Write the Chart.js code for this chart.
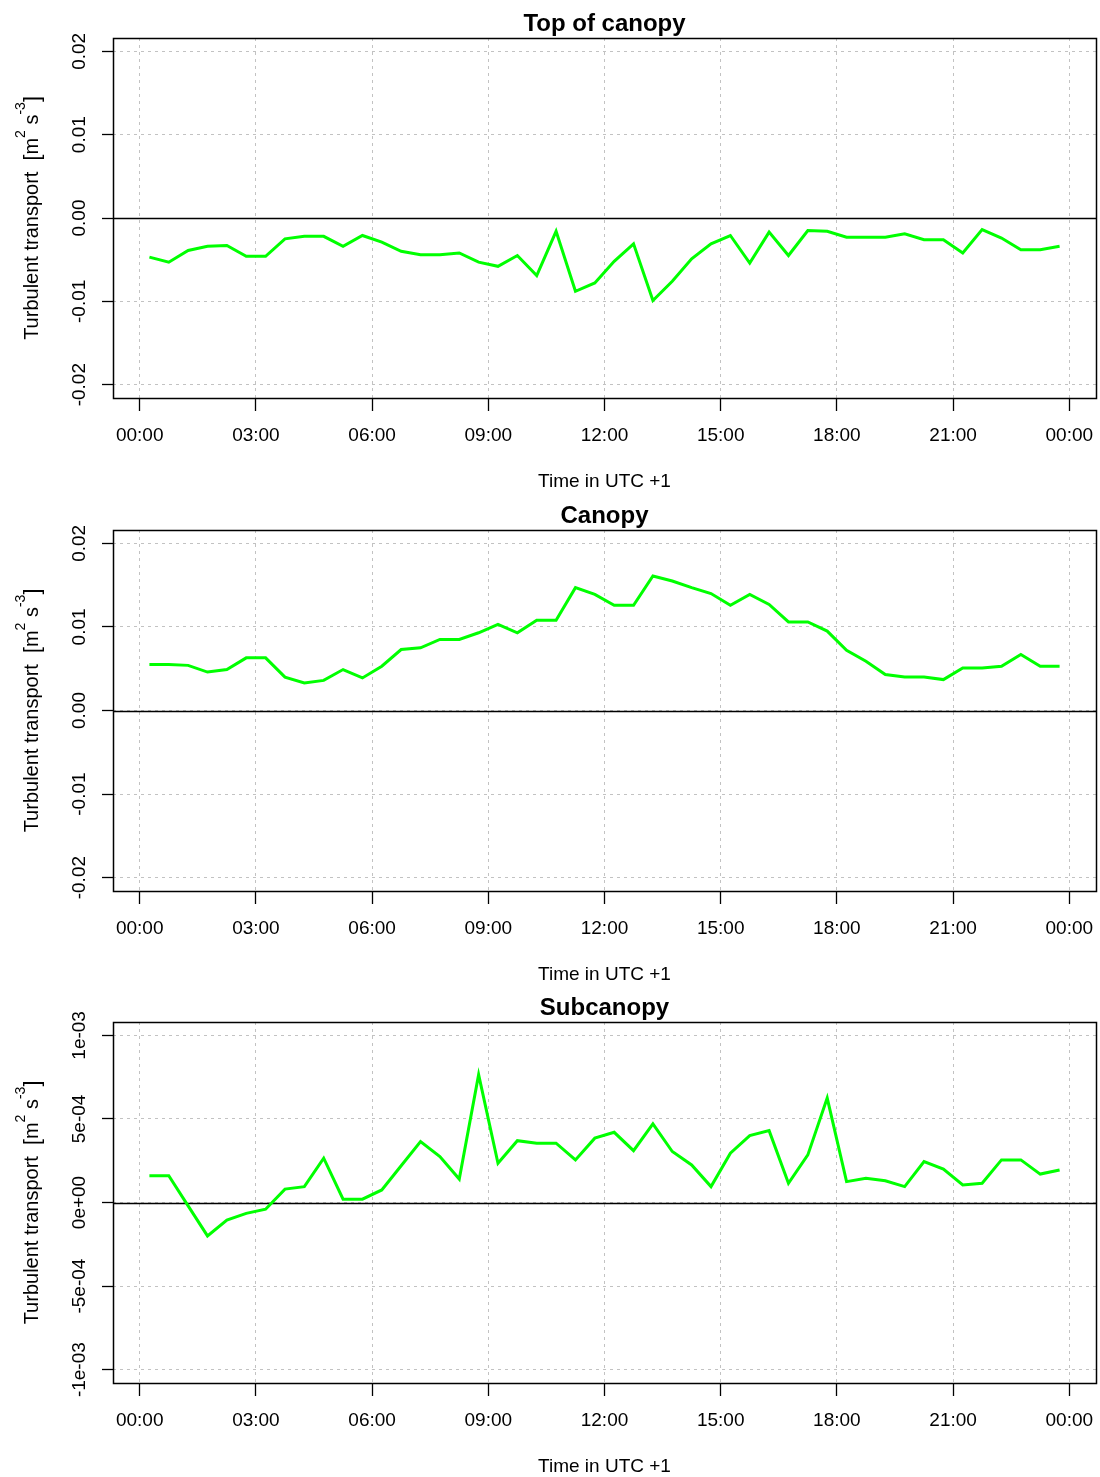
<!DOCTYPE html>
<html>
<head>
<meta charset="utf-8">
<title>Turbulent transport</title>
<script src="https://cdn.jsdelivr.net/npm/chart.js@4/dist/chart.umd.min.js"></script>
<style>
  html, body { margin: 0; padding: 0; background: #fff; }
  #wrap { position: relative; width: 1100px; height: 1477px; }
  #wrap canvas { position: absolute; left: 0; }
</style>
</head>
<body>
<div id="wrap">
  <canvas id="c1" width="1100" height="492" style="top:0px"></canvas>
  <canvas id="c2" width="1100" height="493" style="top:492px"></canvas>
  <canvas id="c3" width="1100" height="493" style="top:984px"></canvas>
</div>
<script>
// Half-hourly averaging periods (centre times, UTC +1)
const times = [
  '00:15','00:45','01:15','01:45','02:15','02:45','03:15','03:45',
  '04:15','04:45','05:15','05:45','06:15','06:45','07:15','07:45',
  '08:15','08:45','09:15','09:45','10:15','10:45','11:15','11:45',
  '12:15','12:45','13:15','13:45','14:15','14:45','15:15','15:45',
  '16:15','16:45','17:15','17:45','18:15','18:45','19:15','19:45',
  '20:15','20:45','21:15','21:45','22:15','22:45','23:15','23:45'
];

// Turbulent transport of TKE [m2 s-3] at three levels
const topOfCanopy = [
  -0.0047,-0.0053,-0.0039,-0.0034,-0.0033,-0.0046,-0.0046,-0.0025,
  -0.0022,-0.0022,-0.0034,-0.0021,-0.0029,-0.0040,-0.0044,-0.0044,
  -0.0042,-0.0053,-0.0058,-0.0045,-0.0069,-0.0016,-0.0088,-0.0078,
  -0.0052,-0.0031,-0.0099,-0.0076,-0.0049,-0.0031,-0.0021,-0.0054,
  -0.0017,-0.0045,-0.0015,-0.0016,-0.0023,-0.0023,-0.0023,-0.0019,
  -0.0026,-0.0026,-0.0042,-0.0014,-0.0024,-0.0038,-0.0038,-0.0034
];
const canopy = [
  0.0055,0.0055,0.0054,0.0046,0.0049,0.0063,0.0063,0.0040,
  0.0033,0.0036,0.0049,0.0039,0.0053,0.0073,0.0075,0.0085,
  0.0085,0.0093,0.0103,0.0093,0.0108,0.0108,0.0147,0.0139,
  0.0126,0.0126,0.0161,0.0155,0.0147,0.0140,0.0126,0.0139,
  0.0127,0.0106,0.0106,0.0095,0.0072,0.0059,0.0043,0.0040,
  0.0040,0.0037,0.0051,0.0051,0.0053,0.0067,0.0053,0.0053
];
const subcanopy = [
  1.6e-4, 1.6e-4,-0.2e-4,-2.0e-4,-1.05e-4,-0.65e-4,-0.4e-4, 0.8e-4,
  0.95e-4,2.65e-4,0.2e-4, 0.2e-4, 0.75e-4, 2.2e-4, 3.65e-4, 2.75e-4,
  1.4e-4, 7.65e-4,2.35e-4,3.7e-4, 3.55e-4, 3.55e-4, 2.55e-4, 3.85e-4,
  4.2e-4, 3.1e-4, 4.7e-4, 3.05e-4,2.25e-4, 0.95e-4, 2.95e-4, 4.0e-4,
  4.3e-4, 1.15e-4,2.85e-4,6.25e-4,1.25e-4, 1.45e-4, 1.3e-4, 0.95e-4,
  2.45e-4,2.0e-4, 1.05e-4,1.15e-4,2.55e-4, 2.55e-4, 1.7e-4, 1.95e-4
];

// Axis ticks and their labels
const xTickHours  = [0, 3, 6, 9, 12, 15, 18, 21, 24];
const xTickLabels = ['00:00','03:00','06:00','09:00','12:00','15:00','18:00','21:00','00:00'];
const fluxTicks      = [-0.02, -0.01, 0, 0.01, 0.02];
const fluxTickLabels = ['-0.02','-0.01','0.00','0.01','0.02'];
const subTicks      = [-1e-3, -5e-4, 0, 5e-4, 1e-3];
const subTickLabels = ['-1e-03','-5e-04','0e+00','5e-04','1e-03'];

const panelTitles = ['Top of canopy', 'Canopy', 'Subcanopy'];
const xAxisTitle = 'Time in UTC +1';

// ---------------------------------------------------------------------------
const FONT = '"Liberation Sans", Arial, Helvetica, sans-serif';
const TICK_SIZE = 19;
const PLOT_LEFT = 113, PLOT_TOP = 38, PLOT_RIGHT_GAP = 4, X_AXIS_H = 94;
const Y_TICK_LEN = 11, X_TICK_LEN = 13, Y_LABEL_CX = 80;

const toHours = t => { const [h, m] = t.split(':').map(Number); return h + m / 60; };
// 4 % range extension on both sides, like base R plotting
const padRange = (lo, hi) => { const d = (hi - lo) * 0.04; return [lo - d, hi + d]; };

const xHours = times.map(toHours);
const [xMin, xMax] = padRange(xHours[0], xHours[xHours.length - 1]);

const measureCtx = document.createElement('canvas').getContext('2d');
measureCtx.font = `${TICK_SIZE}px ${FONT}`;

function drawYTitle(ctx, baselineX, centerY) {
  const big = `20px ${FONT}`, small = `14px ${FONT}`, bracket = `21.5px ${FONT}`;
  const parts = [
    { t: 'Turbulent transport  ', f: big, dy: 0 },
    { t: '[', f: bracket, dy: 0.5 },
    { t: 'm', f: big, dy: 0 },
    { t: '2', f: small, dy: -13 },
    { t: ' s', f: big, dy: 0 },
    { t: '-3', f: small, dy: -13 },
    { t: ']', f: bracket, dy: 0.5 }
  ];
  let total = 0;
  parts.forEach(p => { ctx.font = p.f; p.w = ctx.measureText(p.t).width; total += p.w; });
  ctx.save();
  ctx.translate(baselineX, centerY);
  ctx.rotate(-Math.PI / 2);
  ctx.fillStyle = '#000';
  ctx.textBaseline = 'alphabetic';
  ctx.textAlign = 'left';
  let x = -total / 2;
  parts.forEach(p => { ctx.font = p.f; ctx.fillText(p.t, x, p.dy); x += p.w; });
  ctx.restore();
}

const framePlugin = {
  id: 'frame',
  beforeDatasetsDraw(chart) {
    // horizontal reference line at zero
    const { ctx, chartArea: a, scales: { y } } = chart;
    const py = Math.round(y.getPixelForValue(0)) + 0.5;
    ctx.save();
    ctx.strokeStyle = '#000';
    ctx.lineWidth = 1.4;
    ctx.beginPath();
    ctx.moveTo(a.left, py);
    ctx.lineTo(a.right, py);
    ctx.stroke();
    ctx.restore();
  },
  afterDraw(chart) {
    const { ctx, chartArea: a } = chart;
    ctx.save();
    // plot box
    ctx.strokeStyle = '#000';
    ctx.lineWidth = 1.5;
    ctx.strokeRect(Math.round(a.left) + 0.5, Math.round(a.top) + 0.5,
                   Math.round(a.right - a.left), Math.round(a.bottom - a.top));
    // panel title
    ctx.fillStyle = '#000';
    ctx.font = `bold 24px ${FONT}`;
    ctx.textAlign = 'center';
    ctx.textBaseline = 'alphabetic';
    ctx.fillText(chart.options.panelTitle, (a.left + a.right) / 2, a.top - 7);
    ctx.restore();
    drawYTitle(ctx, 38, (a.top + a.bottom) / 2);
  }
};

function makePanel(canvasId, title, values, yTicks, yLabels, plotH) {
  const canvas = document.getElementById(canvasId);
  const [yMin, yMax] = padRange(yTicks[0], yTicks[yTicks.length - 1]);
  const widest = Math.max(...yLabels.map(l => measureCtx.measureText(l).width));
  const yPad = PLOT_LEFT - Y_TICK_LEN - Y_LABEL_CX - widest / 2;
  const bottomPad = canvas.height - PLOT_TOP - plotH - X_AXIS_H;

  return new Chart(canvas, {
    type: 'line',
    data: {
      datasets: [{
        data: xHours.map((x, i) => ({ x, y: values[i] })),
        borderColor: '#00ff00',
        borderWidth: 3,
        pointRadius: 0,
        tension: 0,
        fill: false
      }]
    },
    options: {
      panelTitle: title,
      responsive: false,
      animation: false,
      devicePixelRatio: 1,
      events: [],
      layout: { padding: { top: PLOT_TOP, right: PLOT_RIGHT_GAP, left: 0, bottom: bottomPad } },
      plugins: { legend: { display: false }, tooltip: { enabled: false }, title: { display: false } },
      scales: {
        x: {
          type: 'linear',
          min: xMin, max: xMax,
          afterBuildTicks: s => { s.ticks = xTickHours.map(v => ({ value: v })); },
          afterFit: s => { s.height = X_AXIS_H; s.paddingLeft = 0; s.paddingRight = 0; },
          ticks: {
            autoSkip: false, minRotation: 0, maxRotation: 0,
            padding: 13.5, color: '#000',
            font: { family: FONT, size: TICK_SIZE },
            callback: (v, i) => xTickLabels[i]
          },
          grid: {
            color: '#c2c2c2', lineWidth: 1,
            drawTicks: true, tickLength: X_TICK_LEN,
            tickColor: '#000', tickWidth: 1.3, tickBorderDash: []
          },
          border: { display: false, dash: [3, 4] },
          title: {
            display: true, text: xAxisTitle, color: '#000',
            font: { family: FONT, size: 19, lineHeight: 1.2 },
            padding: { top: 0, bottom: -1 }
          }
        },
        y: {
          type: 'linear',
          min: yMin, max: yMax,
          afterBuildTicks: s => { s.ticks = yTicks.map(v => ({ value: v })); },
          afterFit: s => { s.width = PLOT_LEFT; s.paddingTop = 0; s.paddingBottom = 0; },
          ticks: {
            autoSkip: false, minRotation: 90, maxRotation: 90,
            crossAlign: 'center', padding: yPad, color: '#000',
            font: { family: FONT, size: TICK_SIZE },
            callback: (v, i) => yLabels[i]
          },
          grid: {
            color: '#c2c2c2', lineWidth: 1,
            drawTicks: true, tickLength: Y_TICK_LEN,
            tickColor: '#000', tickWidth: 1.3, tickBorderDash: []
          },
          border: { display: false, dash: [3, 4] }
        }
      }
    },
    plugins: [framePlugin]
  });
}

makePanel('c1', panelTitles[0], topOfCanopy, fluxTicks, fluxTickLabels, 360);
makePanel('c2', panelTitles[1], canopy, fluxTicks, fluxTickLabels, 361);
makePanel('c3', panelTitles[2], subcanopy, subTicks, subTickLabels, 361);
</script>
</body>
</html>
